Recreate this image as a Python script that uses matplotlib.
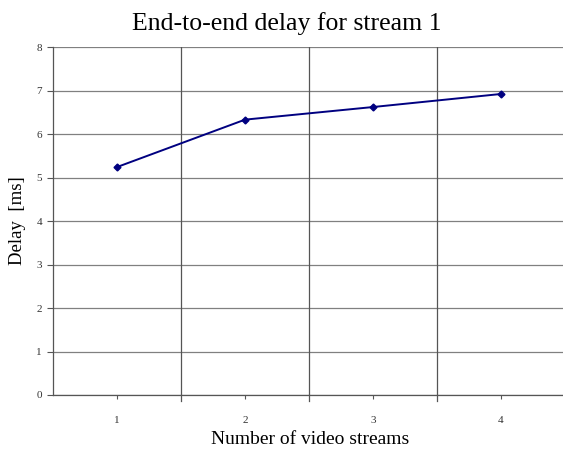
import matplotlib
matplotlib.use("Agg")
import matplotlib.pyplot as plt
import numpy as np

# delay measurements per number of streams
streams = [1, 2, 3, 4]
delay_ms = [5.24, 6.33, 6.62, 6.92]
y_ticks = [0, 1, 2, 3, 4, 5, 6, 7, 8]

plt.rcParams['font.family'] = ['Liberation Serif', 'DejaVu Serif']

fig = plt.figure(figsize=(5.63, 4.55), dpi=100)
ax = fig.add_axes([53 / 563, 60 / 455, 512 / 563, 348 / 455])

x = np.arange(len(streams)) + 1
ax.plot(x, delay_ms, color='#000080', lw=1.4, marker='D', ms=3.5, zorder=3)

ax.set_xlim(0.5, len(streams) + 0.5)
ax.set_ylim(0, 8)
ax.set_yticks(y_ticks)
ax.set_yticklabels([str(t) for t in y_ticks], fontsize=8, color='#333333')
ax.set_xticks(x)
ax.set_xticklabels([str(s) for s in streams], fontsize=8, color='#333333')
ax.tick_params(axis='x', length=3, pad=12, color='#555555')
ax.tick_params(axis='y', length=4, pad=4, color='#555555')

# category separators
for b in np.arange(1.5, len(streams), 1.0):
    ax.axvline(b, color='#555555', lw=0.9, zorder=1)
    ax.plot([b, b], [0, -0.14], color='#555555', lw=0.9, clip_on=False)

ax.yaxis.grid(True, color='#808080', lw=0.9)
ax.set_axisbelow(True)
for side in ('top', 'right'):
    ax.spines[side].set_visible(False)
for side in ('left', 'bottom'):
    ax.spines[side].set_color('#555555')
    ax.spines[side].set_linewidth(0.9)

fig.text(287 / 563, 1 - 24 / 455, 'End-to-end delay for stream 1', ha='center', va='center', fontsize=18.5)
fig.text(310 / 563, 1 - 439 / 455, 'Number of video streams', ha='center', va='center', fontsize=14)
fig.text(18 / 563, 1 - 221 / 455, 'Delay  [ms]', ha='center', va='center', rotation=90, fontsize=13.5)

fig.savefig('out.png', dpi=100)
